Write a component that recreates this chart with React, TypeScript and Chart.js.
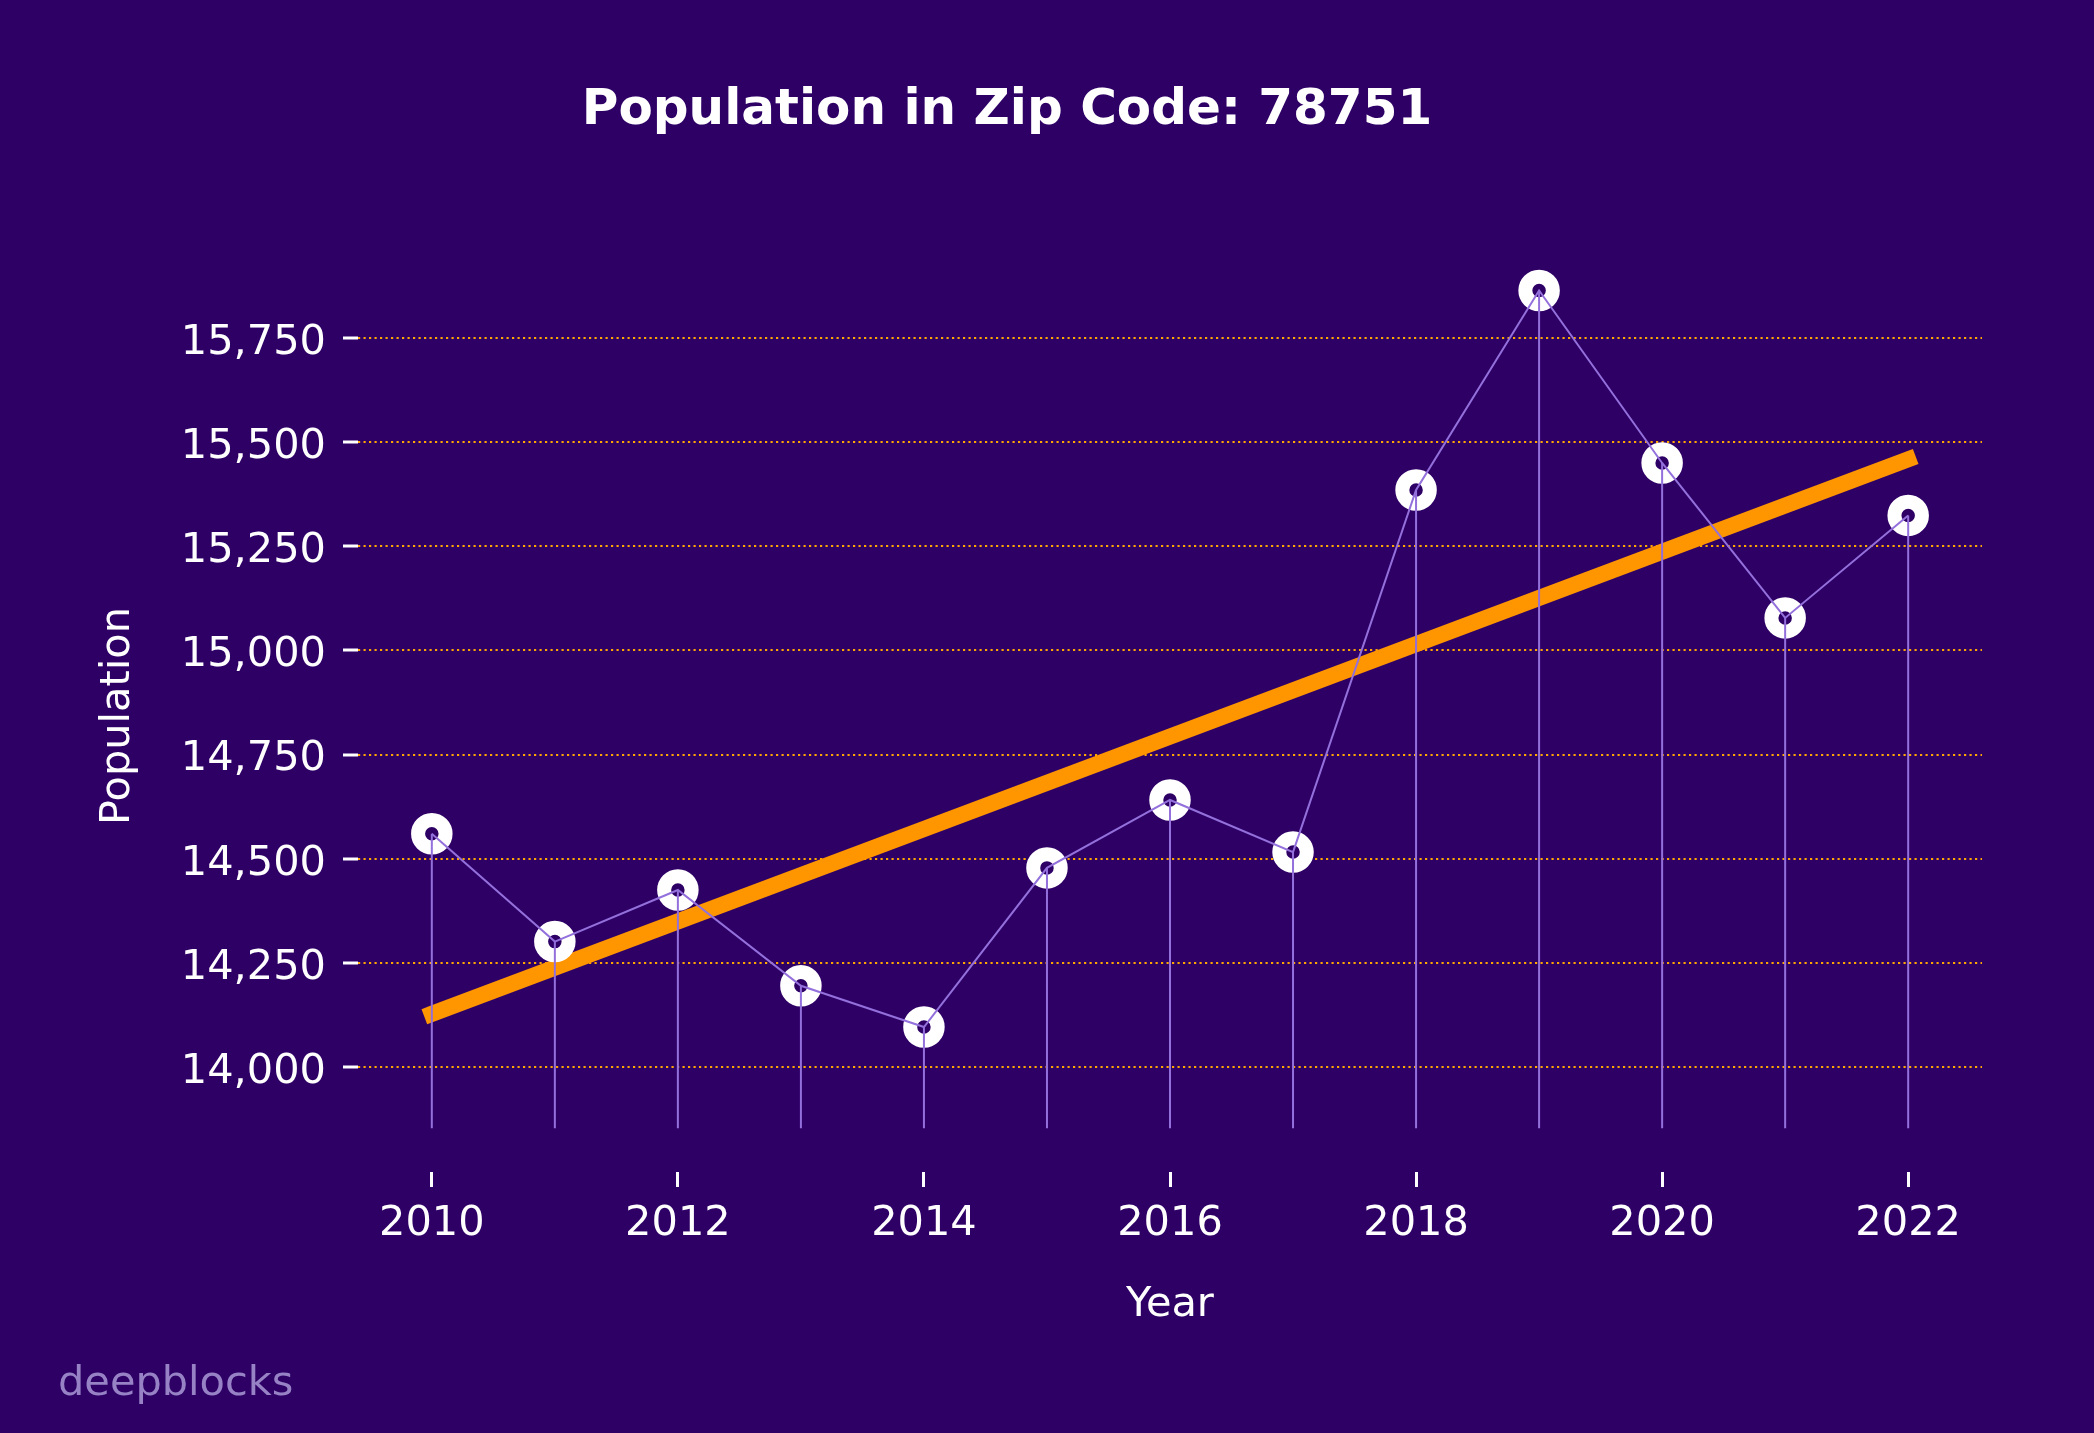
import React, { useEffect, useRef } from 'react';
import { Chart, registerables } from 'chart.js';

Chart.register(...registerables);

// ---- data ----
const years = [2010, 2011, 2012, 2013, 2014, 2015, 2016, 2017, 2018, 2019, 2020, 2021, 2022];
const population = [14560, 14301, 14425, 14195, 14096, 14478, 14641, 14516, 15385, 15864, 15450, 15078, 15324];
const yTicks = [14000, 14250, 14500, 14750, 15000, 15250, 15500, 15750];
const xTicks = [2010, 2012, 2014, 2016, 2018, 2020, 2022];
const stemBase = 13853;
const yMin = 13748;
const yMax = 15966;
const xMin = 2009.4;
const xMax = 2022.6;

const titleText = 'Population in Zip Code: 78751';
const xLabel = 'Year';
const yLabel = 'Population';
const watermarkText = 'deepblocks';

// ---- styles ----
const BG = '#2E0066';
const PURPLE = '#9370DB';
const ORANGE = '#FF9600';
const GRID = '#FFA500';
const FONT = "'DejaVu Sans', 'Noto Sans', sans-serif";
const LABEL_SIZE = 41.5;

// least-squares trend line from the data
function trendLine(xs: number[], ys: number[]) {
  const n = xs.length;
  const mx = xs.reduce((a, b) => a + b, 0) / n;
  const my = ys.reduce((a, b) => a + b, 0) / n;
  let sxy = 0;
  let sxx = 0;
  for (let i = 0; i < n; i++) {
    sxy += (xs[i] - mx) * (ys[i] - my);
    sxx += (xs[i] - mx) * (xs[i] - mx);
  }
  const slope = sxy / sxx;
  const b = my - slope * mx;
  return [
    { x: xs[0], y: slope * xs[0] + b },
    { x: xs[n - 1], y: slope * xs[n - 1] + b },
  ];
}

export default function App() {
  const canvasRef = useRef<HTMLCanvasElement | null>(null);

  useEffect(() => {
    const canvas = canvasRef.current;
    if (!canvas) return;

    const points = years.map((x, i) => ({ x, y: population[i] }));
    const stems: { x: number; y: number | null }[] = [];
    years.forEach((x, i) => {
      stems.push({ x, y: stemBase });
      stems.push({ x, y: population[i] });
      stems.push({ x, y: null });
    });

    const decor = {
      id: 'decor',
      beforeDraw(chart: any) {
        const { ctx, width, height } = chart;
        ctx.save();
        ctx.fillStyle = BG;
        ctx.fillRect(0, 0, width, height);
        ctx.restore();
      },
      afterDraw(chart: any) {
        const { ctx } = chart;
        ctx.save();
        // title
        ctx.fillStyle = '#FFFFFF';
        ctx.font = `bold 50px ${FONT}`;
        ctx.textAlign = 'center';
        ctx.textBaseline = 'alphabetic';
        ctx.fillText(titleText, 1007, 124);
        // y axis label
        ctx.save();
        ctx.translate(120, 716);
        ctx.rotate(-Math.PI / 2);
        ctx.font = `${LABEL_SIZE}px ${FONT}`;
        ctx.textAlign = 'center';
        ctx.textBaseline = 'middle';
        ctx.fillText(yLabel, 0, -2);
        ctx.restore();
        // watermark
        ctx.fillStyle = '#9682C4';
        ctx.font = `41.5px ${FONT}`;
        ctx.textAlign = 'left';
        ctx.textBaseline = 'alphabetic';
        ctx.fillText(watermarkText, 58, 1395);
        ctx.restore();
      },
    };

    const chart = new Chart(canvas, {
      type: 'line',
      data: {
        datasets: [
          {
            label: 'stems',
            data: stems as any,
            borderColor: PURPLE,
            borderWidth: 2,
            pointRadius: 0,
            spanGaps: false,
            order: 0,
          },
          {
            label: 'line',
            data: points,
            borderColor: PURPLE,
            borderWidth: 2,
            pointRadius: 0,
            order: 1,
          },
          {
            label: 'markers',
            data: points,
            showLine: false,
            pointRadius: 13.75,
            pointBorderWidth: 14,
            pointBackgroundColor: BG,
            pointBorderColor: '#FFFFFF',
            order: 2,
          },
          {
            label: 'trend',
            data: trendLine(years, population),
            borderColor: ORANGE,
            borderWidth: 16,
            borderCapStyle: 'square',
            pointRadius: 0,
            order: 3,
          },
        ],
      },
      options: {
        animation: false,
        responsive: false,
        devicePixelRatio: 1,
        events: [],
        layout: { padding: { top: 248, right: 112, left: 0, bottom: 0 } },
        plugins: {
          legend: { display: false },
          tooltip: { enabled: false },
          title: { display: false },
        },
        scales: {
          x: {
            type: 'linear',
            position: 'bottom',
            min: xMin,
            max: xMax,
            afterBuildTicks: (axis: any) => {
              axis.ticks = xTicks.map((v) => ({ value: v }));
            },
            afterFit: (scale: any) => {
              scale.height = 261;
            },
            ticks: {
              color: '#FFFFFF',
              font: { family: FONT, size: LABEL_SIZE },
              padding: 12,
              maxRotation: 0,
              autoSkip: false,
              callback: (v: any) => String(v),
            },
            grid: {
              drawOnChartArea: false,
              drawTicks: true,
              tickLength: 15,
              tickWidth: 3,
              tickColor: '#FFFFFF',
            },
            border: { display: false },
            title: {
              display: true,
              text: xLabel,
              color: '#FFFFFF',
              font: { family: FONT, size: LABEL_SIZE },
              padding: { top: 0, bottom: 103 },
            },
          },
          y: {
            type: 'linear',
            position: 'left',
            min: yMin,
            max: yMax,
            afterBuildTicks: (axis: any) => {
              axis.ticks = yTicks.map((v) => ({ value: v }));
            },
            afterFit: (scale: any) => {
              scale.width = 358;
            },
            ticks: {
              color: '#FFFFFF',
              font: { family: FONT, size: LABEL_SIZE },
              padding: 17,
              labelOffset: 5,
              autoSkip: false,
              callback: (v: any) => Number(v).toLocaleString('en-US'),
            },
            grid: {
              color: GRID,
              lineWidth: 2,
              drawTicks: true,
              tickLength: 15,
              tickWidth: 3,
              tickColor: '#FFFFFF',
              tickBorderDash: [],
            },
            border: { display: false, dash: [2.2, 3.3] },
            title: { display: false },
          },
        },
      },
      plugins: [decor],
    } as any);

    return () => {
      chart.destroy();
    };
  }, []);

  return (
    <div style={{ position: 'fixed', left: 0, top: 0, width: 2094, height: 1433, background: BG }}>
      <canvas ref={canvasRef} width={2094} height={1433} style={{ width: 2094, height: 1433, display: 'block' }} />
    </div>
  );
}
